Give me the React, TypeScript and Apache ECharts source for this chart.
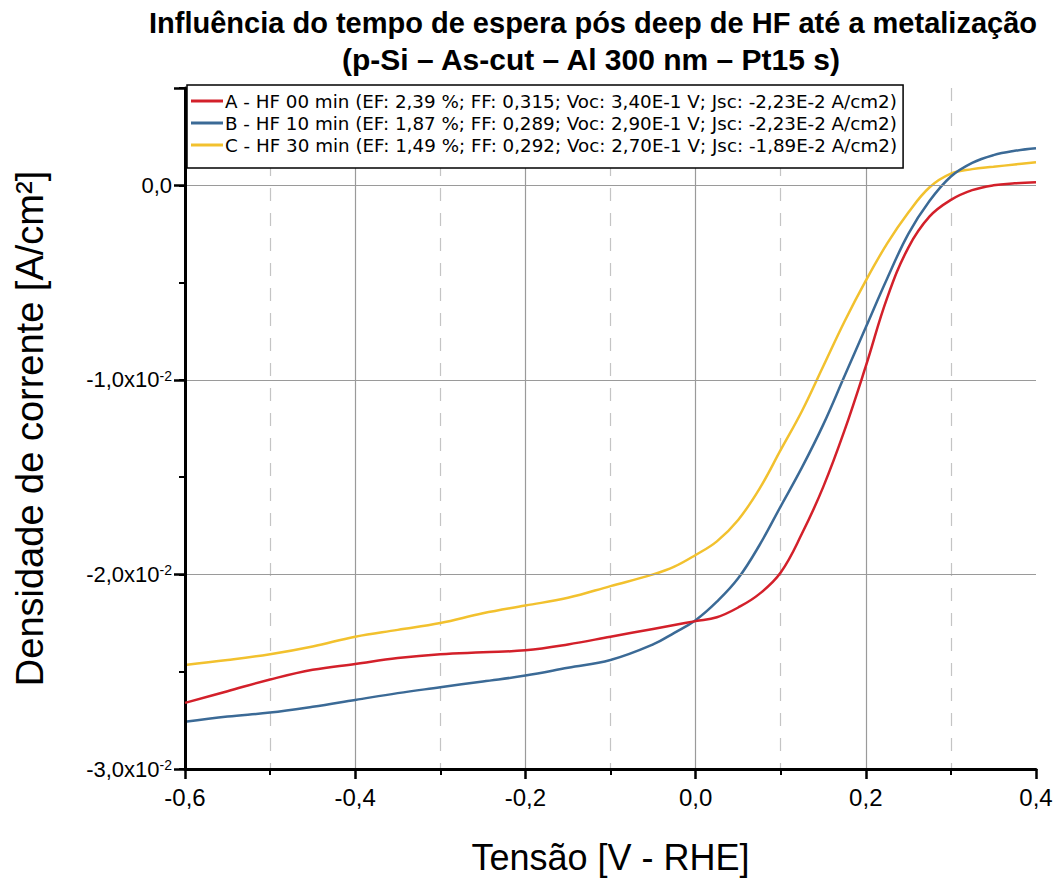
import React, { useEffect, useRef } from "react";
import * as echarts from "echarts";

const titleLine1 = "Influência do tempo de espera pós deep de HF até a metalização";
const titleLine2 = "(p-Si – As-cut – Al 300 nm – Pt15 s)";
const xAxisTitle = "Tensão [V - RHE]";
const yAxisTitle = "Densidade de corrente [A/cm²]";

const seriesNames = [
  "A - HF 00 min (EF: 2,39 %; FF: 0,315; Voc: 3,40E-1 V; Jsc: -2,23E-2 A/cm2)",
  "B - HF 10 min (EF: 1,87 %; FF: 0,289; Voc: 2,90E-1 V; Jsc: -2,23E-2 A/cm2)",
  "C - HF 30 min (EF: 1,49 %; FF: 0,292; Voc: 2,70E-1 V; Jsc: -1,89E-2 A/cm2)",
];
const seriesColors = ["#d3202a", "#3b6a96", "#f2c12e"];

// Series A (HF 00 min): voltage [V] and current density [x1e-2 A/cm2]
const voltageA = [-0.6, -0.55, -0.5, -0.45, -0.4, -0.35, -0.3, -0.25, -0.2, -0.15, -0.1, -0.05, -0.025, 0.0, 0.025, 0.05, 0.075, 0.1, 0.125, 0.15, 0.175, 0.2, 0.225, 0.25, 0.275, 0.3, 0.325, 0.35, 0.375, 0.4];
const currentA = [-2.66, -2.6, -2.54, -2.49, -2.46, -2.43, -2.41, -2.4, -2.39, -2.36, -2.32, -2.28, -2.26, -2.24, -2.22, -2.17, -2.1, -1.99, -1.79, -1.55, -1.26, -0.93, -0.58, -0.32, -0.16, -0.075, -0.025, 0.0, 0.01, 0.015];

// Series B (HF 10 min)
const voltageB = [-0.6, -0.55, -0.5, -0.45, -0.4, -0.35, -0.3, -0.25, -0.2, -0.15, -0.1, -0.05, -0.025, 0.0, 0.025, 0.05, 0.075, 0.1, 0.125, 0.15, 0.175, 0.2, 0.225, 0.25, 0.275, 0.3, 0.325, 0.35, 0.375, 0.4];
const currentB = [-2.757, -2.73, -2.71, -2.68, -2.645, -2.61, -2.58, -2.55, -2.52, -2.48, -2.44, -2.36, -2.3, -2.235, -2.14, -2.02, -1.85, -1.65, -1.45, -1.23, -0.98, -0.73, -0.48, -0.25, -0.08, 0.045, 0.115, 0.155, 0.177, 0.19];

// Series C (HF 30 min)
const voltageC = [-0.6, -0.55, -0.5, -0.45, -0.4, -0.35, -0.3, -0.25, -0.2, -0.15, -0.1, -0.05, -0.025, 0.0, 0.025, 0.05, 0.075, 0.1, 0.125, 0.15, 0.175, 0.2, 0.225, 0.25, 0.275, 0.3, 0.325, 0.35, 0.375, 0.4];
const currentC = [-2.465, -2.44, -2.41, -2.37, -2.32, -2.285, -2.25, -2.2, -2.16, -2.12, -2.06, -2.0, -1.96, -1.9, -1.83, -1.72, -1.56, -1.36, -1.16, -0.93, -0.7, -0.49, -0.3, -0.14, -0.01, 0.06, 0.083, 0.095, 0.107, 0.118];

const currentScale = 1e-2;
const xMin = -0.6;
const xMax = 0.4;
const yMin = -0.03;
const yMax = 0.005;
const yMajorLines = [-0.02, -0.01, 0.0];
const yMinorLines = [-0.025, -0.015, -0.005];

const toPairs = (v: number[], j: number[]) => v.map((x, i) => [x, j[i] * currentScale]);

export default function App() {
  const ref = useRef<HTMLDivElement>(null);
  useEffect(() => {
    if (!ref.current) return;
    const chart = echarts.init(ref.current, undefined, { renderer: "svg" });
    const font = '"Liberation Sans", Arial, sans-serif';
    const legendFont = '"DejaVu Sans", "Liberation Sans", sans-serif';
    const datasets = [toPairs(voltageA, currentA), toPairs(voltageB, currentB), toPairs(voltageC, currentC)];
    const majorGrid = { color: "#9a9a9a", width: 1.2, type: "solid" };
    const minorGrid = { color: "#c4c4c4", width: 1.2, type: [13, 12] };
    const axisStroke = { color: "#000", width: 3, type: "solid" };
    const option: any = {
      animation: false,
      backgroundColor: "#fff",
      textStyle: { fontFamily: font },
      grid: { left: 185, right: 23, top: 88, bottom: 108, containLabel: false },
      graphic: [
        {
          type: "text",
          x: 593,
          y: 23,
          style: { text: titleLine1, font: `bold 29px ${font}`, fill: "#000", align: "center", verticalAlign: "middle" },
        },
        {
          type: "text",
          x: 591,
          y: 59,
          style: { text: titleLine2, font: `bold 30px ${font}`, fill: "#000", align: "center", verticalAlign: "middle" },
        },
      ],
      legend: {
        orient: "vertical",
        left: 187,
        top: 85,
        data: seriesNames,
        icon: "rect",
        itemWidth: 32,
        itemHeight: 3,
        itemGap: 2,
        padding: [6, 6, 13, 4],
        borderColor: "#000",
        borderWidth: 1.5,
        backgroundColor: "#fff",
        textStyle: { fontSize: 18.3, lineHeight: 20, color: "#000", fontFamily: legendFont, padding: [0, 0, 0, -3] },
        z: 10,
      },
      xAxis: {
        type: "value",
        min: xMin,
        max: xMax,
        interval: 0.2,
        position: "bottom",
        name: xAxisTitle,
        nameLocation: "middle",
        nameGap: 70,
        nameTextStyle: { fontSize: 36, color: "#000", fontFamily: font },
        axisLine: { show: true, onZero: false, lineStyle: axisStroke },
        axisTick: { show: true, inside: false, length: 10, lineStyle: { color: "#000", width: 2.5, type: "solid" } },
        minorTick: { show: true, splitNumber: 2, length: 6, lineStyle: { color: "#000", width: 2, type: "solid" } },
        splitLine: { show: true, showMinLine: false, showMaxLine: false, lineStyle: majorGrid },
        minorSplitLine: { show: true, lineStyle: minorGrid },
        axisLabel: {
          fontSize: 24,
          color: "#000",
          margin: 16,
          fontFamily: font,
          formatter: (v: number) => v.toFixed(1).replace(".", ","),
        },
      },
      yAxis: [
        {
          type: "value",
          min: yMin,
          max: yMax,
          interval: 0.01,
          position: "left",
          name: yAxisTitle,
          nameLocation: "middle",
          nameGap: 136,
          nameTextStyle: { fontSize: 38, color: "#000", fontFamily: font },
          axisLine: { show: true, onZero: false, lineStyle: axisStroke },
          axisTick: { show: true, inside: false, length: 11, lineStyle: { color: "#000", width: 2.5, type: "solid" } },
          splitLine: { show: false },
          axisLabel: {
            fontSize: 22,
            color: "#000",
            margin: 13,
            fontFamily: font,
            formatter: (v: number) => {
              if (Math.abs(v) < 1e-9) return "0,0";
              const k = v / currentScale;
              if (Math.abs(k - Math.round(k)) > 1e-6) return "";
              return `${k.toFixed(1).replace(".", ",")}x10{sup|-2}`;
            },
            rich: {
              sup: { fontSize: 14, verticalAlign: "top", lineHeight: 13, fontFamily: font, color: "#000" },
            },
          },
        },
        {
          type: "value",
          min: yMin,
          max: yMax,
          interval: 0.005,
          position: "left",
          axisLine: { show: false, onZero: false },
          axisTick: { show: true, inside: false, length: 6, lineStyle: { color: "#000", width: 2, type: "solid" } },
          axisLabel: { show: false },
          splitLine: { show: false },
        },
      ],
      series: [
        {
          type: "line",
          name: "grid-minor",
          data: [],
          silent: true,
          z: 1,
          markLine: {
            silent: true,
            symbol: "none",
            label: { show: false },
            lineStyle: minorGrid,
            data: yMinorLines.map((y) => ({ yAxis: y })),
          },
        },
        {
          type: "line",
          name: "grid-major",
          data: [],
          silent: true,
          z: 1,
          markLine: {
            silent: true,
            symbol: "none",
            label: { show: false },
            lineStyle: majorGrid,
            data: yMajorLines.map((y) => ({ yAxis: y })),
          },
        },
        ...datasets.map((d, i) => ({
          type: "line",
          name: seriesNames[i],
          data: d,
          xAxisIndex: 0,
          yAxisIndex: 0,
          showSymbol: false,
          symbol: "none",
          smooth: 0.4,
          lineStyle: { color: seriesColors[i], width: 2.5, type: "solid" },
          itemStyle: { color: seriesColors[i] },
          z: 3 + (2 - i),
        })),
        {
          type: "line",
          name: "axis-frame",
          data: [],
          silent: true,
          clip: false,
          z: 20,
          markLine: {
            silent: true,
            symbol: "none",
            label: { show: false },
            lineStyle: axisStroke,
            data: [
              [{ coord: [xMin, yMin] }, { coord: [xMax, yMin] }],
              [{ coord: [xMin, yMin] }, { coord: [xMin, yMax] }],
            ],
          },
        },
      ],
    };
    chart.setOption(option);
    return () => chart.dispose();
  }, []);
  return <div ref={ref} style={{ position: "absolute", left: 0, top: 0, width: 1059, height: 880 }} />;
}
